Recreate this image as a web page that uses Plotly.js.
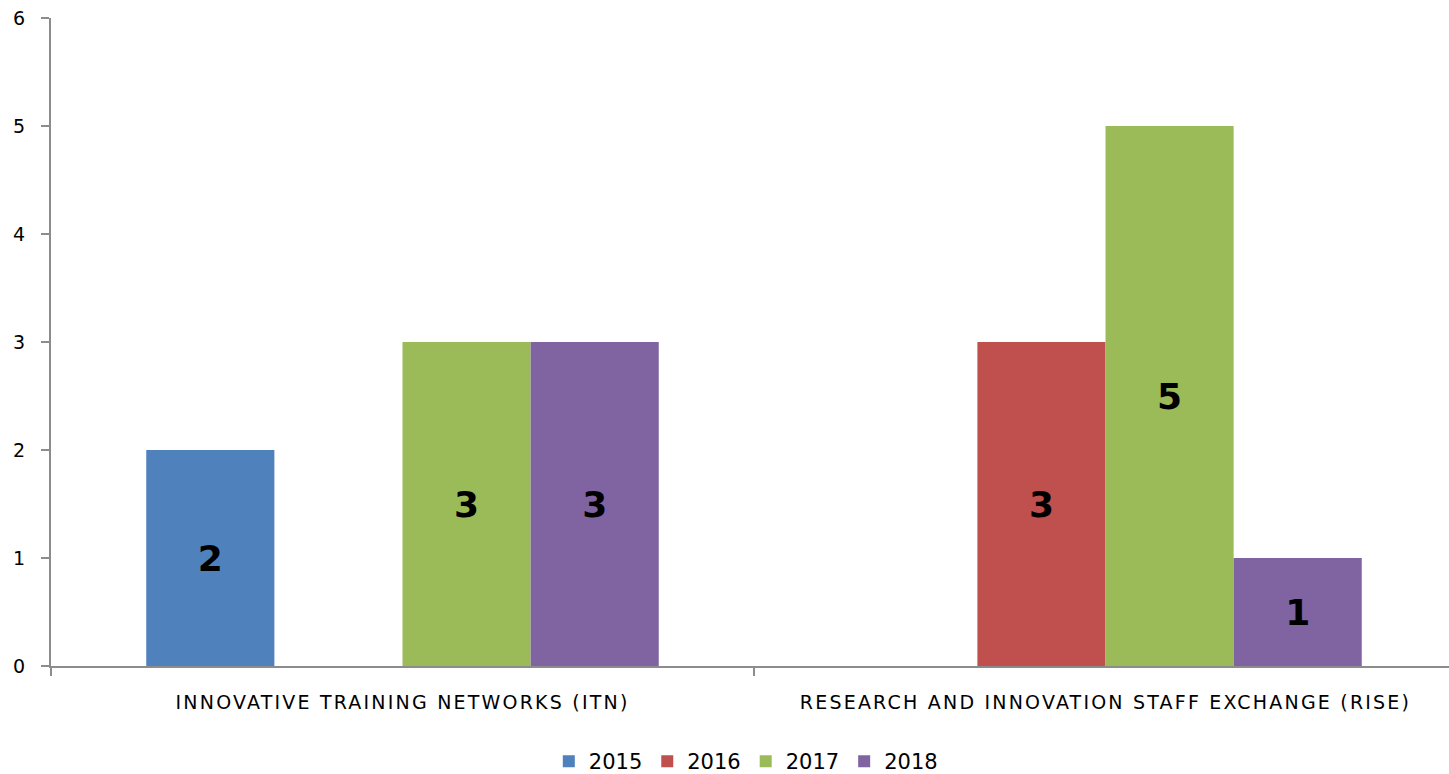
<!DOCTYPE html>
<html>
<head>
<meta charset="utf-8">
<script src="https://cdn.plot.ly/plotly-3.0.1.min.js"></script>
<style>
html,body{margin:0;padding:0;background:#fff;}
#chart{width:1449px;height:774px;}
#chart .xtick text{letter-spacing:2.2px;}
</style>
</head>
<body>
<div id="chart"></div>
<script>
const categories = ["INNOVATIVE TRAINING NETWORKS (ITN)", "RESEARCH AND INNOVATION STAFF EXCHANGE (RISE)"];
const years = ["2015", "2016", "2017", "2018"];
const values2015 = [2, null];
const values2016 = [null, 3];
const values2017 = [3, 5];
const values2018 = [3, 1];
const colors = ["#4F81BD", "#C0504D", "#9BBB59", "#8064A2"];
const yTicks = [0, 1, 2, 3, 4, 5, 6];

const series = [values2015, values2016, values2017, values2018];
const traces = series.map((vals, i) => ({
  type: 'bar',
  name: years[i],
  x: categories,
  y: vals,
  marker: {color: colors[i]},
  text: vals.map(v => v == null ? '' : String(v)),
  textposition: 'inside',
  insidetextanchor: 'middle',
  constraintext: 'none',
  textangle: 0,
  textfont: {family: 'DejaVu Sans, sans-serif', size: 36, color: '#000', weight: 'bold'},
  hoverinfo: 'none'
}));

const layout = {
  width: 1449, height: 774,
  margin: {l: 51, r: 0, t: 18, b: 108},
  paper_bgcolor: '#fff', plot_bgcolor: '#fff',
  barmode: 'group',
  bargap: 0.271,
  bargroupgap: 0,
  showlegend: true,
  legend: {
    orientation: 'h', x: 0.497, xanchor: 'center',
    yref: 'container', y: 0.016, yanchor: 'middle',
    font: {family: 'DejaVu Sans, sans-serif', size: 21, color: '#000'},
    itemwidth: 30, traceorder: 'normal'
  },
  xaxis: {
    type: 'category',
    range: [-0.5, 1.4886],
    showline: true, linecolor: '#8C8C8C', linewidth: 2,
    ticks: 'outside', tickson: 'boundaries', ticklen: 8, tickcolor: '#8C8C8C', tickwidth: 2,
    showgrid: false, zeroline: false,
    tickfont: {family: 'DejaVu Sans, sans-serif', size: 19, color: '#000'},
    ticklabelstandoff: 18,
    automargin: false
  },
  yaxis: {
    range: [0, 6],
    tickvals: yTicks,
    showline: true, linecolor: '#8C8C8C', linewidth: 2,
    ticks: 'outside', ticklen: 8, tickcolor: '#8C8C8C', tickwidth: 2,
    showgrid: false, zeroline: false,
    tickfont: {family: 'DejaVu Sans, sans-serif', size: 19, color: '#000'},
    ticklabelstandoff: 12,
    automargin: false
  }
};

Plotly.newPlot('chart', traces, layout, {displayModeBar: false, staticPlot: true});
</script>
</body>
</html>
